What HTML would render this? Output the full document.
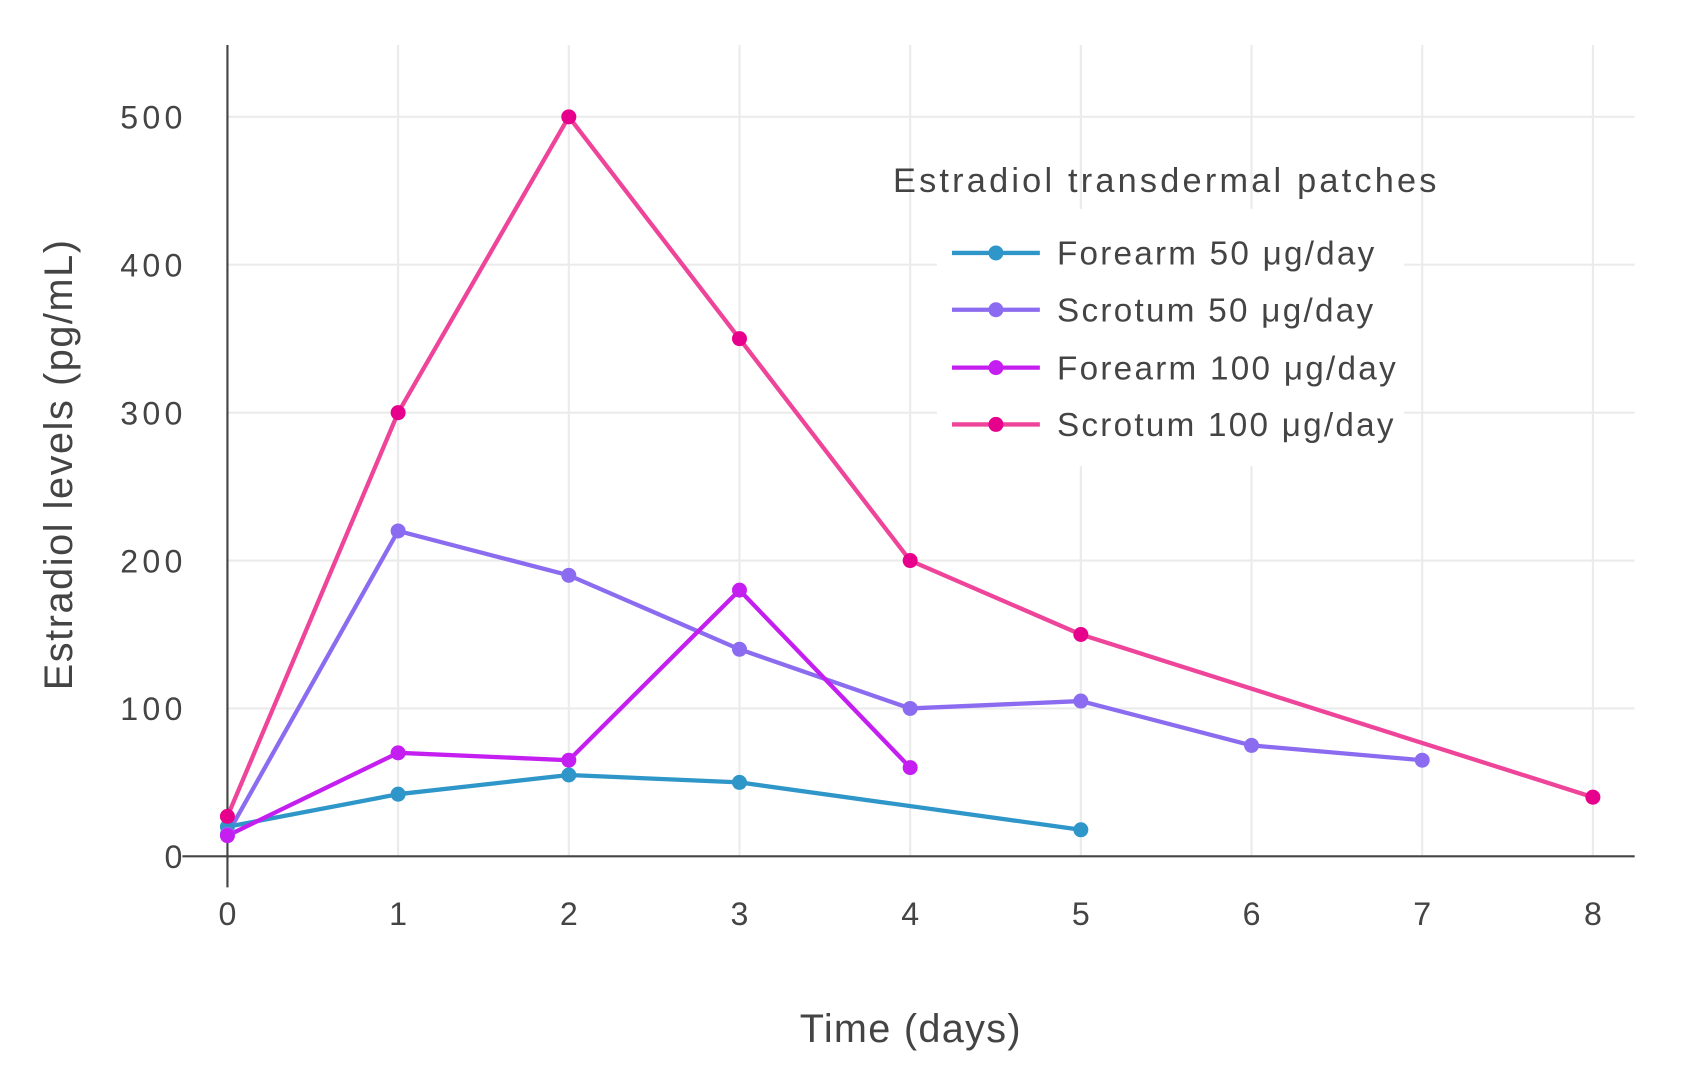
<!DOCTYPE html>
<html><head><meta charset="utf-8"><style>html,body{margin:0;padding:0;background:#fff}svg{display:block}</style></head>
<body>
<svg width="1681" height="1090" viewBox="0 0 1568 1017" xmlns="http://www.w3.org/2000/svg" font-family="'Liberation Sans', sans-serif" fill="#444">
<rect width="1568" height="1017" fill="#fff"/>
<g stroke="#ebebeb" stroke-width="2">
<line x1="371.25" y1="42" x2="371.25" y2="799"/>
<line x1="530.5" y1="42" x2="530.5" y2="799"/>
<line x1="689.75" y1="42" x2="689.75" y2="799"/>
<line x1="849" y1="42" x2="849" y2="799"/>
<line x1="1008.25" y1="42" x2="1008.25" y2="799"/>
<line x1="1167.5" y1="42" x2="1167.5" y2="799"/>
<line x1="1326.75" y1="42" x2="1326.75" y2="799"/>
<line x1="1486" y1="42" x2="1486" y2="799"/>
<line x1="212" y1="661" x2="1525" y2="661"/>
<line x1="212" y1="523" x2="1525" y2="523"/>
<line x1="212" y1="385" x2="1525" y2="385"/>
<line x1="212" y1="247" x2="1525" y2="247"/>
<line x1="212" y1="109" x2="1525" y2="109"/>
</g>
<rect x="874" y="195" width="436" height="240" fill="#fff"/>
<line x1="212" y1="42" x2="212" y2="828" stroke="#444" stroke-width="2"/>
<line x1="170" y1="799" x2="1525" y2="799" stroke="#444" stroke-width="2"/>
<g font-size="30" text-anchor="middle">
<text x="212" y="863">0</text><text x="371.25" y="863">1</text><text x="530.5" y="863">2</text><text x="689.75" y="863">3</text><text x="849" y="863">4</text><text x="1008.25" y="863">5</text><text x="1167.5" y="863">6</text><text x="1326.75" y="863">7</text><text x="1486" y="863">8</text>
</g>
<g font-size="30" text-anchor="end">
<text x="170" y="810" >0</text><text x="170" y="672" textLength="58">100</text><text x="170" y="534" textLength="58">200</text><text x="170" y="396" textLength="58">300</text><text x="170" y="258" textLength="58">400</text><text x="170" y="120" textLength="58">500</text>
</g>
<text x="746" y="972" font-size="37" textLength="206">Time (days)</text>
<text transform="translate(67,644) rotate(-90)" font-size="37" textLength="420">Estradiol levels (pg/mL)</text>
<g fill="none" stroke-width="4" stroke-linejoin="round">
<polyline stroke="#2e96c8" points="212,771.4 371.25,741 530.5,723.1 689.75,730 1008.25,774.2"/>
<polyline stroke="#8b6cf0" points="212,778.3 371.25,495.4 530.5,536.8 689.75,605.8 849,661 1008.25,654.1 1167.5,695.5 1326.75,709.3"/>
<polyline stroke="#c51ef0" points="212,779.7 371.25,702.4 530.5,709.3 689.75,550.6 849,716.2"/>
<polyline stroke="#ee4499" points="212,761.7 371.25,385 530.5,109 689.75,316 849,523 1008.25,592 1486,743.8"/>
</g>
<g fill="#2e96c8"><circle cx="212" cy="771.4" r="7"/><circle cx="371.25" cy="741" r="7"/><circle cx="530.5" cy="723.1" r="7"/><circle cx="689.75" cy="730" r="7"/><circle cx="1008.25" cy="774.2" r="7"/></g>
<g fill="#8b6cf0"><circle cx="212" cy="778.3" r="7"/><circle cx="371.25" cy="495.4" r="7"/><circle cx="530.5" cy="536.8" r="7"/><circle cx="689.75" cy="605.8" r="7"/><circle cx="849" cy="661" r="7"/><circle cx="1008.25" cy="654.1" r="7"/><circle cx="1167.5" cy="695.5" r="7"/><circle cx="1326.75" cy="709.3" r="7"/></g>
<g fill="#c51ef0"><circle cx="212" cy="779.7" r="7"/><circle cx="371.25" cy="702.4" r="7"/><circle cx="530.5" cy="709.3" r="7"/><circle cx="689.75" cy="550.6" r="7"/><circle cx="849" cy="716.2" r="7"/></g>
<g fill="#e6008c"><circle cx="212" cy="761.7" r="7"/><circle cx="371.25" cy="385" r="7"/><circle cx="530.5" cy="109" r="7"/><circle cx="689.75" cy="316" r="7"/><circle cx="849" cy="523" r="7"/><circle cx="1008.25" cy="592" r="7"/><circle cx="1486" cy="743.8" r="7"/></g>
<text x="833" y="179" font-size="32" textLength="507">Estradiol transdermal patches</text>
<g font-size="31">
<line x1="888" y1="236" x2="970" y2="236" stroke="#2e96c8" stroke-width="4"/><circle cx="929" cy="236" r="7" fill="#2e96c8"/><text x="986" y="247" textLength="296">Forearm 50 μg/day</text>
<line x1="888" y1="289" x2="970" y2="289" stroke="#8b6cf0" stroke-width="4"/><circle cx="929" cy="289" r="7" fill="#8b6cf0"/><text x="986" y="300" textLength="295">Scrotum 50 μg/day</text>
<line x1="888" y1="343" x2="970" y2="343" stroke="#c51ef0" stroke-width="4"/><circle cx="929" cy="343" r="7" fill="#c51ef0"/><text x="986" y="354" textLength="316">Forearm 100 μg/day</text>
<line x1="888" y1="396" x2="970" y2="396" stroke="#ee4499" stroke-width="4"/><circle cx="929" cy="396" r="7" fill="#e6008c"/><text x="986" y="407" textLength="314">Scrotum 100 μg/day</text>
</g>
</svg>
</body></html>
